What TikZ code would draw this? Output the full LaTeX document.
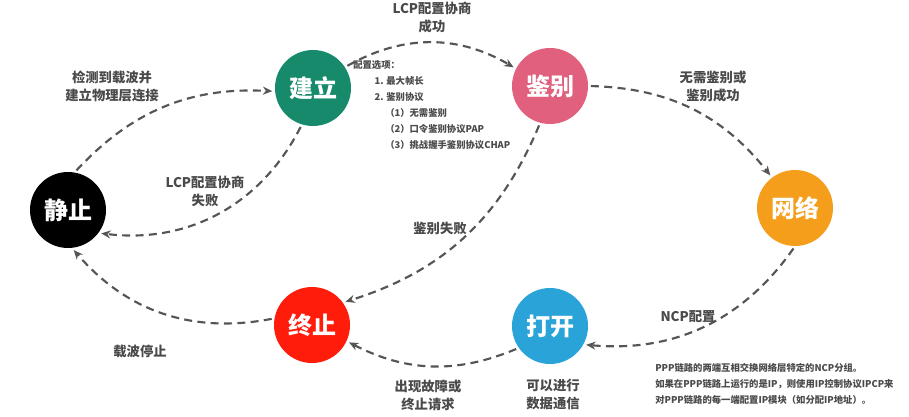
\documentclass[tikz,border=0pt]{standalone}
\usepackage{fontspec}
\setmainfont{Noto Sans CJK SC}
\usetikzlibrary{arrows.meta}
\definecolor{cteal}{HTML}{188A6C}
\definecolor{cpink}{HTML}{E0607E}
\definecolor{corange}{HTML}{F59E1B}
\definecolor{cred}{HTML}{FF1C0A}
\definecolor{cblue}{HTML}{2AA4D8}
\definecolor{clabel}{HTML}{4A4A4A}
\definecolor{carrow}{HTML}{555555}
\tikzset{
  state/.style={circle,minimum size=57pt,inner sep=0pt,text=white,font=\fontsize{18}{20}\selectfont\bfseries},
  flow/.style={draw=carrow,line width=1.6pt,dash pattern=on 6pt off 4pt,-{Stealth[length=7pt,width=6pt]},shorten >=2pt,shorten <=2pt},
  lbl/.style={text=clabel,font=\fontsize{10}{13.5}\selectfont\bfseries,align=center,inner sep=0pt},
  small/.style={text=clabel,font=\fontsize{7}{12}\selectfont\bfseries,align=left,inner sep=0pt,anchor=north west}
}
\begin{document}
\begin{tikzpicture}[x=0.75pt,y=-0.75pt]
\useasboundingbox[fill=white] (0,0) rectangle (909,417);
\node[state,fill=black] (jz) at (68,210) {静止};
\node[state,fill=cteal] (jl) at (313,88) {建立};
\node[state,fill=cpink] (jb) at (550,86) {鉴别};
\node[state,fill=corange] (wl) at (795,208) {网络};
\node[state,fill=cred] (zz) at (312,325) {终止};
\node[state,fill=cblue] (dk) at (550,326) {打开};

\draw[flow] (jz.80) to[bend left=25] (jl.185);
\draw[flow] (jl.33) to[bend left=30] (jb.153);
\draw[flow] (jb.0) to[bend left=25] (wl.127);
\draw[flow] (wl.-90) to[bend left=30] (dk.-29);
\draw[flow] (dk.215) to[bend left=25] (zz.-25);
\draw[flow] (zz.170) to[bend left=30] (jz.-84);
\draw[flow] (jl.253) to[bend left=35] (jz.-37);
\draw[flow] (jb.255) to[bend left=25] (zz.36);

\node[lbl] (t1) at (432,17) {LCP配置协商\\成功};
\node[lbl] (t2) at (713,87) {无需鉴别或\\鉴别成功};
\node[lbl] (t3) at (112,86) {检测到载波并\\建立物理层连接};
\node[lbl] (t4) at (205,191) {LCP配置协商\\失败};
\node[lbl] (t5) at (440,228) {鉴别失败};
\node[lbl] (t6) at (688,317) {NCP配置};
\node[lbl] (t7) at (140,351) {载波停止};
\node[lbl] (t8) at (428,395) {出现故障或\\终止请求};
\node[lbl] (t9) at (553,394) {可以进行\\数据通信};

\node[small] (opt) at (353,60) {配置选项：\\
\hspace*{16pt}1. 最大帧长\\
\hspace*{16pt}2. 鉴别协议\\
\hspace*{24pt}（1）无需鉴别\\
\hspace*{24pt}（2）口令鉴别协议PAP\\
\hspace*{24pt}（3）挑战握手鉴别协议CHAP};

\node[small] (note) at (655,363) {PPP链路的两端互相交换网络层特定的NCP分组。\\
如果在PPP链路上运行的是IP，则使用IP控制协议IPCP来\\
对PPP链路的每一端配置IP模块（如分配IP地址）。};
\end{tikzpicture}
\end{document}
